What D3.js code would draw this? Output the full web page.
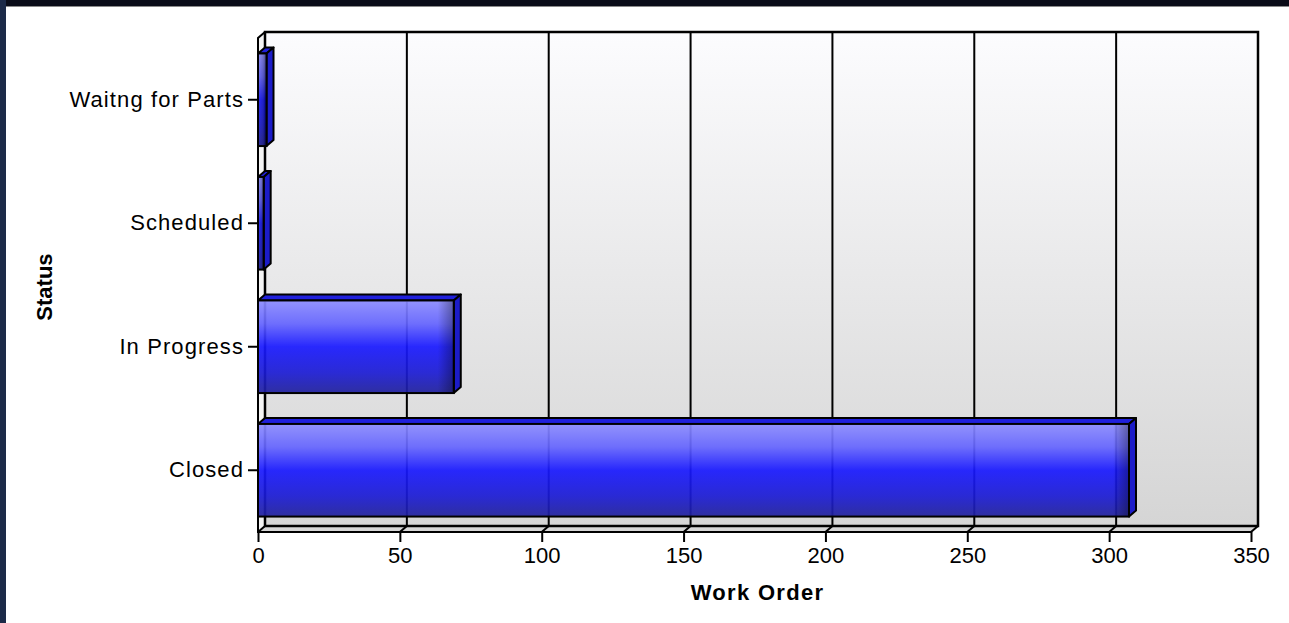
<!DOCTYPE html>
<html>
<head>
<meta charset="utf-8">
<script src="https://cdn.jsdelivr.net/npm/d3@7"></script>
<style>
  html, body { margin: 0; padding: 0; background: #fff; overflow: hidden; }
  svg { display: block; }
</style>
</head>
<body>
<div id="chart"></div>
<script>
var w = 1289;
var h = 623;

// data
var categories = ["Waitng for Parts", "Scheduled", "In Progress", "Closed"];
var workOrders = [3, 2, 69, 307];
var xTicks = [0, 50, 100, 150, 200, 250, 300, 350];
var xTitle = "Work Order";
var yTitle = "Status";

var rows = categories.map(function (c, i) { return { name: c, value: workOrders[i] }; });

// pseudo 3d depth
var dx = 7, dy = -6;

var svg = d3.select("#chart")
	.append("svg")
	.attr("width", w)
	.attr("height", h);

var defs = svg.append("defs");

var wallGrad = defs.append("linearGradient")
	.attr("id", "wall").attr("x1", 0).attr("y1", 0).attr("x2", 0).attr("y2", 1);
wallGrad.append("stop").attr("offset", "0%").attr("stop-color", "#fcfcfe");
wallGrad.append("stop").attr("offset", "100%").attr("stop-color", "#d5d5d5");

var barGrad = defs.append("linearGradient")
	.attr("id", "barFront").attr("x1", 0).attr("y1", 0).attr("x2", 0).attr("y2", 1);
[["0%", "#8c8cff"], ["25%", "#6464ff"], ["50%", "#1818ff"], ["78%", "#1b1bd4"], ["100%", "#20209c"]]
	.forEach(function (s) { barGrad.append("stop").attr("offset", s[0]).attr("stop-color", s[1]); });

var edgeGrad = defs.append("linearGradient")
	.attr("id", "barEdge").attr("x1", 0).attr("y1", 0).attr("x2", 1).attr("y2", 0);
edgeGrad.append("stop").attr("offset", "0%").attr("stop-color", "#000").attr("stop-opacity", 0);
edgeGrad.append("stop").attr("offset", "100%").attr("stop-color", "#000").attr("stop-opacity", 0.35);

var x = d3.scaleLinear()
	.domain([0, 350])
	.range([258, 1251]);

var y = d3.scaleBand()
	.domain(categories)
	.range([38, 532])
	.paddingInner(0.25)
	.paddingOuter(0.125);

var x0 = x.range()[0], x1 = x.range()[1];
var yTop = y.range()[0], yBot = y.range()[1];

// window frame
svg.append("rect").attr("x", 0).attr("y", 0).attr("width", w).attr("height", 6).attr("fill", "#0a0c18");
svg.append("rect").attr("x", 0).attr("y", 6).attr("width", w).attr("height", 1).attr("fill", "#8a8a8a");
svg.append("rect").attr("x", 0).attr("y", 0).attr("width", 6).attr("height", h).attr("fill", "#1c2a48");

// side wall and floor
svg.append("path")
	.attr("d", "M" + x0 + "," + yTop + "L" + (x0 + dx) + "," + (yTop + dy) + "L" + (x0 + dx) + "," + (yBot + dy) + "L" + x0 + "," + yBot + "Z")
	.attr("fill", "#f4f4f4");
svg.append("path")
	.attr("d", "M" + x0 + "," + yBot + "L" + (x0 + dx) + "," + (yBot + dy) + "L" + (x1 + dx) + "," + (yBot + dy) + "L" + x1 + "," + yBot + "Z")
	.attr("fill", "#d6d6d6");

// back wall
svg.append("rect")
	.attr("x", x0 + dx).attr("y", yTop + dy)
	.attr("width", x1 - x0).attr("height", yBot - yTop)
	.attr("fill", "url(#wall)");

// grid lines on the back wall and floor
var grid = svg.append("g");
grid.selectAll(".grid")
	.data(xTicks.slice(1, -1))
	.enter()
	.append("path")
	.attr("d", function (d) {
		return "M" + (x(d) + dx) + "," + (yTop + dy) + "L" + (x(d) + dx) + "," + (yBot + dy) + "L" + x(d) + "," + yBot;
	})
	.attr("fill", "none")
	.attr("stroke", "#000")
	.attr("stroke-width", 2);

// frame
svg.append("rect")
	.attr("x", x0 + dx).attr("y", yTop + dy)
	.attr("width", x1 - x0).attr("height", yBot - yTop)
	.attr("fill", "none").attr("stroke", "#000").attr("stroke-width", 2.5);
svg.append("path")
	.attr("d", "M" + (x0 + dx) + "," + (yTop + dy) + "L" + x0 + "," + yTop + "L" + x0 + "," + yBot + "L" + x1 + "," + yBot + "L" + (x1 + dx) + "," + (yBot + dy)
		+ "M" + x0 + "," + yBot + "L" + (x0 + dx) + "," + (yBot + dy))
	.attr("fill", "none").attr("stroke", "#000").attr("stroke-width", 2);

// bars
var bars = svg.selectAll(".bar")
	.data(rows)
	.enter()
	.append("g")
	.classed("bar", true);

bars.append("path")
	.attr("d", function (d) {
		var bx = x(d.value), by = y(d.name);
		return "M" + x0 + "," + by + "L" + (x0 + dx) + "," + (by + dy) + "L" + (bx + dx) + "," + (by + dy) + "L" + bx + "," + by + "Z";
	})
	.attr("fill", "#2020dc").attr("stroke", "#000").attr("stroke-width", 2).attr("stroke-linejoin", "round");

bars.append("path")
	.attr("d", function (d) {
		var bx = x(d.value), by = y(d.name), bh = y.bandwidth();
		return "M" + bx + "," + by + "L" + (bx + dx) + "," + (by + dy) + "L" + (bx + dx) + "," + (by + bh + dy) + "L" + bx + "," + (by + bh) + "Z";
	})
	.attr("fill", "#1c1cc8").attr("stroke", "#000").attr("stroke-width", 2).attr("stroke-linejoin", "round");

bars.append("rect")
	.attr("x", x0)
	.attr("y", function (d) { return y(d.name); })
	.attr("width", function (d) { return x(d.value) - x0; })
	.attr("height", y.bandwidth())
	.attr("fill", "url(#barFront)")
	.attr("fill-opacity", 0.92);

bars.append("rect")
	.attr("x", function (d) { return Math.max(x0, x(d.value) - 16); })
	.attr("y", function (d) { return y(d.name); })
	.attr("width", function (d) { return Math.min(16, x(d.value) - x0); })
	.attr("height", y.bandwidth())
	.attr("fill", "url(#barEdge)");

bars.append("rect")
	.attr("x", x0)
	.attr("y", function (d) { return y(d.name); })
	.attr("width", function (d) { return x(d.value) - x0; })
	.attr("height", y.bandwidth())
	.attr("fill", "none").attr("stroke", "#000").attr("stroke-width", 2);

// axes
var xAxis = svg.append("g")
	.attr("transform", "translate(0," + yBot + ")")
	.call(d3.axisBottom(x).tickValues(xTicks).tickSize(10).tickPadding(5));
var yAxis = svg.append("g")
	.attr("transform", "translate(" + x0 + ",0)")
	.call(d3.axisLeft(y).tickSize(10).tickPadding(4));

[xAxis, yAxis].forEach(function (a) {
	a.select(".domain").remove();
	a.selectAll("line").attr("stroke", "#000").attr("stroke-width", 2);
	a.selectAll("text")
		.attr("fill", "#000")
		.style("font-family", "Arial, 'Liberation Sans', sans-serif")
		.style("font-size", "22px");
});
yAxis.selectAll("text").style("letter-spacing", "1.1px");

svg.append("text")
	.attr("x", (x0 + x1) / 2 + 3)
	.attr("y", 600)
	.attr("text-anchor", "middle")
	.style("font-family", "Arial, 'Liberation Sans', sans-serif")
	.style("font-size", "22px")
	.style("font-weight", "bold")
	.style("letter-spacing", "1.3px")
	.text(xTitle);

svg.append("text")
	.attr("transform", "translate(52," + ((yTop + yBot) / 2 + 2) + ") rotate(-90)")
	.attr("text-anchor", "middle")
	.style("font-family", "Arial, 'Liberation Sans', sans-serif")
	.style("font-size", "22px")
	.style("font-weight", "bold")
	.text(yTitle);
</script>
</body>
</html>
